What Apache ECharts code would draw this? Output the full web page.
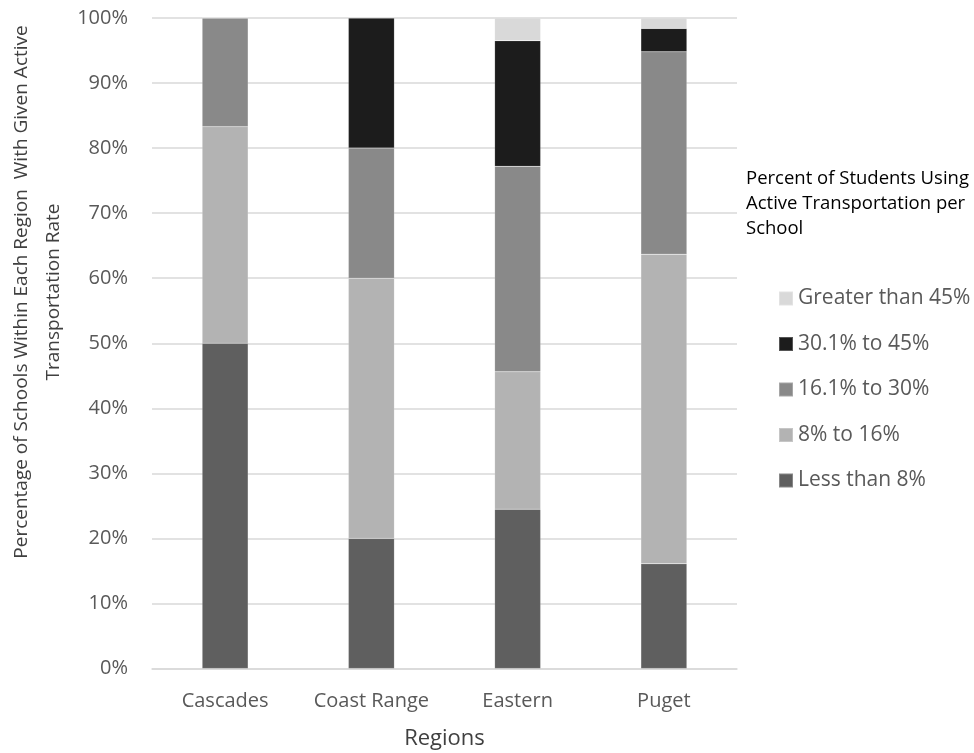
<!DOCTYPE html>
<html>
<head>
<meta charset="utf-8">
<script src="https://cdn.jsdelivr.net/npm/echarts@6/dist/echarts.min.js"></script>
<style>
  html, body { margin: 0; padding: 0; background: #ffffff; }
  #chart { width: 974px; height: 753px; }
</style>
</head>
<body>
<div id="chart"></div>
<script>
// Regions along the x axis
const regions = ['Cascades', 'Coast Range', 'Eastern', 'Puget'];

// Share of schools (%) in each active-transportation band, per region
const lessThan8 = [50.0, 20.0, 24.5, 16.1];
const from8to16 = [33.3, 40.0, 21.1, 47.6];
const from16to30 = [16.7, 20.0, 31.6, 31.1];
const from30to45 = [0.0, 20.0, 19.3, 3.6];
const greaterThan45 = [0.0, 0.0, 3.5, 1.6];

const yTicks = [0, 10, 20, 30, 40, 50, 60, 70, 80, 90, 100];

const bands = [
  { name: 'Less than 8%', data: lessThan8, color: '#5f5f5f' },
  { name: '8% to 16%', data: from8to16, color: '#b3b3b3' },
  { name: '16.1% to 30%', data: from16to30, color: '#898989' },
  { name: '30.1% to 45%', data: from30to45, color: '#1c1c1c' },
  { name: 'Greater than 45%', data: greaterThan45, color: '#d9d9d9' }
];

const FONT = '"Open Sans", sans-serif';
const chart = echarts.init(document.getElementById('chart'), null, { renderer: 'canvas' });

chart.setOption({
  animation: false,
  backgroundColor: '#ffffff',
  textStyle: { fontFamily: FONT },
  grid: { left: 152, right: 237, top: 18, bottom: 84.5, containLabel: false, outerBoundsMode: 'none' },
  legend: {
    orient: 'vertical',
    left: 778,
    top: 288,
    padding: 0,
    itemWidth: 14,
    itemHeight: 14,
    itemGap: 24.5,
    icon: 'rect',
    data: bands.map(b => b.name).reverse(),
    textStyle: { fontFamily: FONT, fontSize: 21, color: '#595959' }
  },
  graphic: [
    {
      type: 'text',
      left: 746,
      top: 166.5,
      style: {
        text: 'Percent of Students Using\nActive Transportation per\nSchool',
        font: '18.5px ' + FONT,
        lineHeight: 25,
        fill: '#000000'
      }
    },
    {
      // vertical axis title, two lines, reading bottom to top
      type: 'text',
      x: 38,
      y: 292,
      rotation: Math.PI / 2,
      style: {
        text: 'Percentage of Schools Within Each Region  With Given Active\nTransportation Rate',
        font: '19px ' + FONT,
        lineHeight: 32,
        align: 'center',
        verticalAlign: 'middle',
        fill: '#404040'
      }
    }
  ],
  xAxis: {
    type: 'category',
    data: regions,
    name: 'Regions',
    nameLocation: 'middle',
    nameGap: 59,
    nameTextStyle: { fontFamily: FONT, fontSize: 22, color: '#404040' },
    axisLine: { lineStyle: { color: '#d9d9d9', width: 1.5 } },
    axisTick: { show: false },
    axisLabel: { interval: 0, fontFamily: FONT, fontSize: 20, color: '#595959', margin: 23 }
  },
  yAxis: {
    type: 'value',
    min: 0,
    max: 100,
    interval: 10,
    axisLine: { show: false },
    axisTick: { show: false },
    splitLine: { lineStyle: { color: '#d9d9d9', width: 1.5 } },
    axisLabel: {
      fontFamily: FONT, fontSize: 20, color: '#595959', margin: 24,
      formatter: v => (yTicks.includes(v) ? v + '%' : '')
    }
  },
  series: bands.map(b => ({
    name: b.name,
    type: 'bar',
    stack: 'total',
    barWidth: 46,
    data: b.data,
    itemStyle: { color: b.color, borderColor: 'rgba(255,255,255,0.25)', borderWidth: 0.5 },
    emphasis: { disabled: true }
  }))
});
</script>
</body>
</html>
